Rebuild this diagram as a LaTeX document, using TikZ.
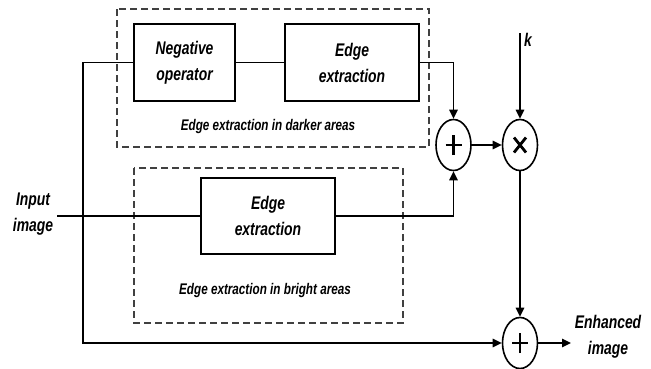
\documentclass[tikz,border=0pt]{standalone}
\usepackage{fontspec}
\setmainfont{Liberation Sans}[FakeStretch=0.76]
\usetikzlibrary{arrows.meta,shapes.geometric}
\begin{document}
\begin{tikzpicture}[x=1pt,y=-1pt,
 lbl/.style={font=\fontsize{18.3}{26}\selectfont\bfseries\itshape, align=center, inner sep=0pt},
 small/.style={font=\fontsize{15.4}{16}\selectfont\bfseries\itshape, inner sep=0pt},
 block/.style={draw, line width=1.7pt, lbl},
 grp/.style={draw=black!75, line width=1.1pt, dash pattern=on 7pt off 4pt},
 op/.style={draw, ellipse, line width=1.6pt, minimum width=35pt, minimum height=51pt, inner sep=0pt},
 plusop/.style={op, path picture={
   \draw[line width=2.8pt] ([xshift=-8pt]path picture bounding box.center) -- ([xshift=8pt]path picture bounding box.center);
   \draw[line width=2.8pt] ([yshift=-10pt]path picture bounding box.center) -- ([yshift=10pt]path picture bounding box.center);}},
 timesop/.style={op, path picture={
   \draw[line width=2.8pt] ([shift={(-6pt,-7.5pt)}]path picture bounding box.center) -- ([shift={(6pt,7.5pt)}]path picture bounding box.center);
   \draw[line width=2.8pt] ([shift={(-6pt,7.5pt)}]path picture bounding box.center) -- ([shift={(6pt,-7.5pt)}]path picture bounding box.center);}},
 wire/.style={line width=1.6pt},
 arr/.style={wire, -{Triangle[length=9pt,width=8.5pt]}}
]
\fill[white] (0,0) rectangle (651,368);
\useasboundingbox (0,0) rectangle (651,368);

% dashed groups
\draw[grp] (117,9) rectangle (429,147);
\draw[grp] (134,168) rectangle (403,323);

% blocks
\node[block, minimum width=101pt, minimum height=77pt] (neg) at (184.5,62.5) {Negative\\operator};
\node[block, minimum width=134pt, minimum height=77pt] (ee1) at (352,62.5) {Edge\\extraction};
\node[block, minimum width=134pt, minimum height=76pt] (ee2) at (268,216) {Edge\\extraction};

\node[small] (lab1) at (268,127) {Edge extraction in darker areas};
\node[small] (lab2) at (265,291) {Edge extraction in bright areas};

% operators
\node[plusop] (plus1) at (453.5,145) {};
\node[timesop] (times) at (520,145) {};
\node[plusop] (plus3) at (520,343) {};

% labels
\node[lbl] (in) at (33,214) {Input\\image};
\node[lbl, anchor=west] (k) at (524,40) {k};
\node[lbl] (out) at (608,337) {Enhanced\\image};

\coordinate (j1) at (83,216);
\coordinate (ktop) at (520,33);
\coordinate (outend) at (571,343);
\coordinate (inend) at (57,216);

% connectors
\draw[wire] (inend) -- (ee2.west);
\draw[arr] (neg.west) -| (j1) |- (plus3.west);
\draw[wire] (neg.east) -- (ee1.west);
\draw[arr] (ee1.east) -| (plus1.north);
\draw[arr] (ee2.east) -| (plus1.south);
\draw[arr] (plus1.east) -- (times.west);
\draw[arr] (ktop) -- (times.north);
\draw[arr] (times.south) -- (plus3.north);
\draw[arr] (plus3.east) -- (outend);
\end{tikzpicture}
\end{document}
